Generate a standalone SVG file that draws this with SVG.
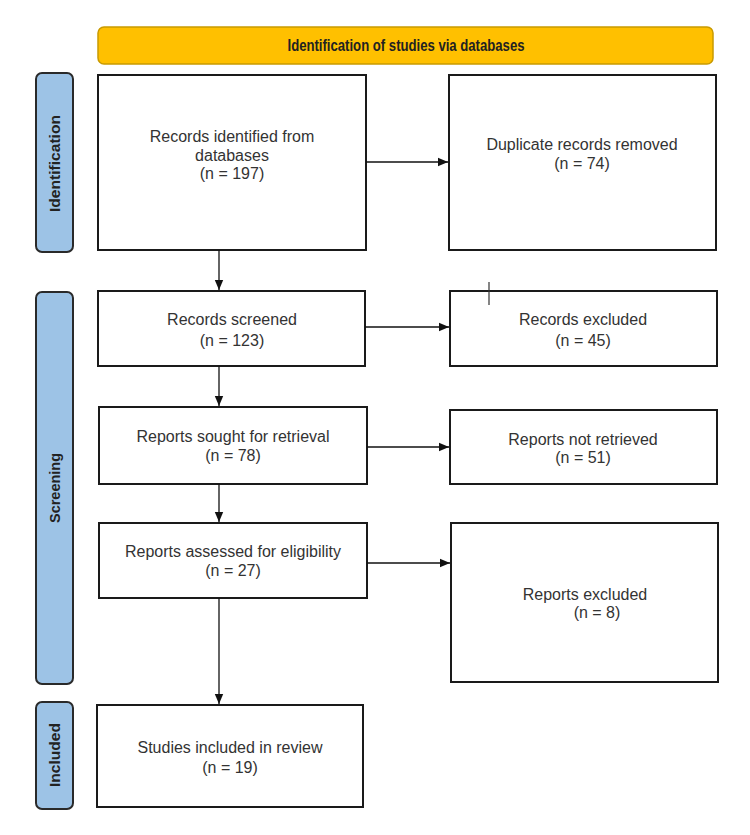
<svg xmlns="http://www.w3.org/2000/svg" width="750" height="835" viewBox="0 0 750 835">
<style>
.box{fill:#fff;stroke:#1a1a1a;stroke-width:2}
.side{fill:#9dc3e6;stroke:#2a2a2a;stroke-width:2}
.t{font-family:"Liberation Sans",Arial,sans-serif;font-size:16px;fill:#333;text-anchor:middle}
.sl{font-family:"Liberation Sans Narrow","Liberation Sans",Arial,sans-serif;font-size:15px;font-weight:bold;fill:#222;text-anchor:middle}
.hd{font-size:16px}
.c{stroke:#111;stroke-width:1.3;fill:none;marker-end:url(#ah)}
</style>
<defs>
<marker id="ah" markerWidth="10" markerHeight="10" refX="10" refY="5" orient="auto" markerUnits="userSpaceOnUse">
<path d="M0,0.8 L10,5 L0,9.2 Z" fill="#111"/>
</marker>
</defs>
<rect width="750" height="835" fill="#fff"/>
<g id="header">
<rect x="98" y="27" width="615" height="37" rx="6" fill="#ffc000" stroke="#c99a00" stroke-width="1.5"/>
<text class="sl hd" x="406" y="51" textLength="237" lengthAdjust="spacingAndGlyphs">Identification of studies via databases</text>
</g>
<g id="lbl-identification">
<rect class="side" x="36" y="73" width="37" height="179" rx="6"/>
<text class="sl" transform="translate(60,163.5) rotate(-90)" textLength="97" lengthAdjust="spacingAndGlyphs">Identification</text>
</g>
<g id="lbl-screening">
<rect class="side" x="36" y="292" width="37" height="392" rx="6"/>
<text class="sl" transform="translate(60,488) rotate(-90)" textLength="70" lengthAdjust="spacingAndGlyphs">Screening</text>
</g>
<g id="lbl-included">
<rect class="side" x="36" y="702" width="37" height="107" rx="6"/>
<text class="sl" transform="translate(60,755) rotate(-90)" textLength="64" lengthAdjust="spacingAndGlyphs">Included</text>
</g>
<g id="n-identified">
<rect class="box" x="98" y="75" width="268" height="175"/>
<text class="t" x="232" y="142">Records identified from</text>
<text class="t" x="232" y="160.5">databases</text>
<text class="t" x="232" y="179">(n = 197)</text>
</g>
<g id="n-duplicates">
<rect class="box" x="449" y="75" width="267" height="175"/>
<text class="t" x="582" y="150">Duplicate records removed</text>
<text class="t" x="582" y="168.5">(n = 74)</text>
</g>
<g id="n-screened">
<rect class="box" x="98" y="291" width="267" height="75"/>
<text class="t" x="232" y="325">Records screened</text>
<text class="t" x="232" y="346">(n = 123)</text>
</g>
<g id="n-excluded">
<rect class="box" x="450" y="291" width="267" height="75"/>
<line x1="489" y1="282" x2="489" y2="305" stroke="#333" stroke-width="1.2"/>
<text class="t" x="583" y="325">Records excluded</text>
<text class="t" x="583" y="346">(n = 45)</text>
</g>
<g id="n-sought">
<rect class="box" x="99" y="407" width="268" height="77"/>
<text class="t" x="233" y="442">Reports sought for retrieval</text>
<text class="t" x="233" y="461">(n = 78)</text>
</g>
<g id="n-notretrieved">
<rect class="box" x="450" y="410" width="267" height="74"/>
<text class="t" x="583" y="445">Reports not retrieved</text>
<text class="t" x="583" y="463">(n = 51)</text>
</g>
<g id="n-assessed">
<rect class="box" x="99" y="523" width="268" height="75"/>
<text class="t" x="233" y="557">Reports assessed for eligibility</text>
<text class="t" x="233" y="576">(n = 27)</text>
</g>
<g id="n-reportsexcluded">
<rect class="box" x="451" y="523" width="267" height="159"/>
<text class="t" x="585" y="600">Reports excluded</text>
<text class="t" x="597" y="618">(n = 8)</text>
</g>
<g id="n-included">
<rect class="box" x="97" y="705" width="266" height="102"/>
<text class="t" x="230" y="753">Studies included in review</text>
<text class="t" x="230" y="773">(n = 19)</text>
</g>
<g id="connectors">
<line class="c" x1="366" y1="162" x2="448" y2="162"/>
<line class="c" x1="219" y1="250" x2="219" y2="290"/>
<line class="c" x1="365" y1="327" x2="449" y2="327"/>
<line class="c" x1="219" y1="366" x2="219" y2="406"/>
<line class="c" x1="367" y1="447" x2="449" y2="447"/>
<line class="c" x1="219" y1="484" x2="219" y2="522"/>
<line class="c" x1="367" y1="563" x2="450" y2="563"/>
<line class="c" x1="219" y1="598" x2="219" y2="704"/>
</g>
</svg>
